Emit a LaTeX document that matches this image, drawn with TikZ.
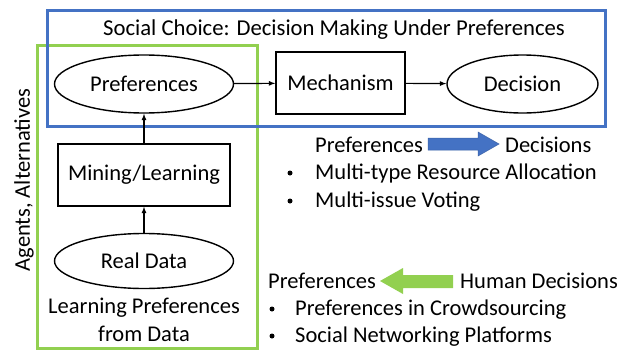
\documentclass[tikz,border=0pt]{standalone}
\usepackage{fontspec}
\setmainfont{Carlito}
\usepackage{xcolor}
\usepackage{tikz}
\usetikzlibrary{shapes.geometric}
\usetikzlibrary{arrows}
\usetikzlibrary{shapes}

\definecolor{boxblue}{HTML}{4472C4}
\definecolor{boxgreen}{HTML}{92D050}

\tikzset{
    oval/.style = {draw, ellipse, line width = 1.4pt, minimum width = 179pt,
        minimum height = 58pt, inner sep = 0pt},
    block/.style = {draw, rectangle, line width = 1.4pt, inner sep = 0pt},
    txt/.style = {inner sep = 0pt, anchor = base west},
    dot/.style = {circle, fill, inner sep = 0pt, minimum size = 5pt},
    flow/.style = {-latex, line width = 1.2pt}
}

\begin{document}
\begin{tikzpicture}[x = 1pt, y = -1pt, font = \fontsize{22.5}{26}\selectfont]
        \useasboundingbox (0, 0) rectangle (629, 351);

        \draw[boxgreen, line width = 3pt] (37, 45) rectangle (257, 348);
        \draw[boxblue, line width = 3pt] (47, 10) rectangle (605, 126);

        \node[txt, anchor = base, font = \fontsize{22.7}{26}\selectfont] (title)
            at (334, 35) {Social Choice: Decision Making Under Preferences};

        \node[oval] (prefs) at (144, 84) {Preferences};
        \node[block, minimum width = 129pt, minimum height = 62pt] (mech)
            at (340.5, 83) {Mechanism};
        \node[oval, minimum width = 151pt] (dec) at (522.5, 84) {Decision};
        \node[block, minimum width = 172pt, minimum height = 62pt] (mine)
            at (144, 175) {Mining/Learning};
        \node[oval, minimum height = 55pt] (data) at (144, 261) {Real Data};

        \draw[flow] (prefs) -- (mech);
        \draw[flow] (mech) -- (dec);
        \draw[flow] (mine) -- (prefs);
        \draw[flow] (data) -- (mine);

        \node[txt, anchor = base] (learn1) at (144, 313) {Learning Preferences};
        \node[txt, anchor = base] (learn2) at (144, 341) {from Data};

        \node[rotate = 90, inner sep = 0pt] (agents) at (24, 180)
            {Agents, Alternatives};

        % social choice side
        \node[txt] (p1) at (315, 152) {Preferences};
        \filldraw[boxblue!85!black, fill = boxblue, line width = 0.5pt]
            (428, 138) -- (478, 138) -- (478, 132) -- (499, 144)
            -- (478, 156) -- (478, 150) -- (428, 150) -- cycle;
        \node[txt] (d1) at (505, 152) {Decisions};
        \node[dot] (b1) at (290, 173) {};
        \node[txt] (i1) at (315, 179) {Multi-type Resource Allocation};
        \node[dot] (b2) at (290, 201) {};
        \node[txt] (i2) at (315, 207) {Multi-issue Voting};

        % learning side
        \node[txt] (p2) at (268, 288) {Preferences};
        \fill[boxgreen]
            (453, 275) -- (403, 275) -- (403, 268) -- (380, 281)
            -- (403, 294) -- (403, 288) -- (453, 288) -- cycle;
        \node[txt] (h2) at (460, 288) {Human Decisions};
        \node[dot] (b3) at (272, 309) {};
        \node[txt] (i3) at (295, 315) {Preferences in Crowdsourcing};
        \node[dot] (b4) at (272, 336) {};
        \node[txt] (i4) at (295, 342) {Social Networking Platforms};
    \end{tikzpicture}
\end{document}
